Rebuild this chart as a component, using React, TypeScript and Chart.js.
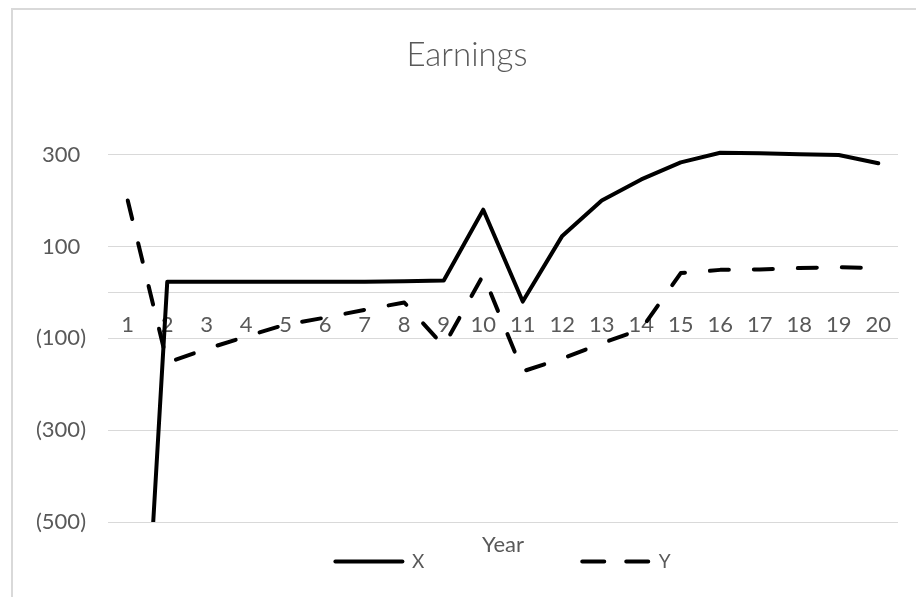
import React, { useEffect, useRef } from "react";
import { Chart, registerables } from "chart.js";

Chart.register(...registerables);

const YEARS = ["1", "2", "3", "4", "5", "6", "7", "8", "9", "10", "11", "12", "13", "14", "15", "16", "17", "18", "19", "20"];
const SERIES_X = [-1450, 23, 23, 23, 23, 23, 23, 24, 26, 180, -20, 123, 200, 246, 283, 304, 303, 301, 299, 281];
const SERIES_Y = [200, -153, -123, -96, -70, -55, -38, -22, -117, 38, -172, -144, -111, -80, 42, 49, 50, 53, 55, 53];
const Y_TICKS = [-500, -300, -100, 100, 300];
const TITLE = "Earnings";
const X_TITLE = "Year";

const TEXT = "#595959";
const GRID = "#d9d9d9";
const FONT = "Lato";

export default function App() {
  const ref = useRef<HTMLCanvasElement | null>(null);

  useEffect(() => {
    if (!ref.current) return;
    const chart = new Chart(ref.current, {
      type: "line",
      data: {
        labels: YEARS,
        datasets: [
          {
            label: "X",
            data: SERIES_X,
            borderColor: "#000000",
            backgroundColor: "#000000",
            borderWidth: 4,
            borderCapStyle: "round",
            borderJoinStyle: "round",
            pointRadius: 0,
            tension: 0,
            clip: { left: 5, top: 6, right: 5, bottom: 0 } as any,
          },
          {
            label: "Y",
            data: SERIES_Y,
            borderColor: "#000000",
            backgroundColor: "#000000",
            borderWidth: 4,
            borderDash: [19, 25],
            borderCapStyle: "round",
            borderJoinStyle: "round",
            pointRadius: 0,
            tension: 0,
            clip: { left: 5, top: 6, right: 5, bottom: 0 } as any,
          },
        ],
      },
      options: {
        responsive: false,
        animation: false,
        layout: { padding: { left: 23, right: 33, top: 0, bottom: 16 } },
        scales: {
          x: {
            type: "category",
            position: { y: 0 } as any,
            offset: true,
            grid: { display: false, drawTicks: false },
            border: { display: true, color: GRID, width: 1 },
            ticks: {
              color: TEXT,
              font: { family: FONT, size: 22 },
              padding: 19,
              autoSkip: false,
              maxRotation: 0,
            },
          },
          y: {
            min: -500,
            max: 300,
            afterBuildTicks: (s: any) => {
              s.ticks = Y_TICKS.map((v) => ({ value: v }));
            },
            afterFit: (s: any) => {
              s.width = 72;
            },
            grid: { color: GRID, lineWidth: 1, drawTicks: false },
            border: { display: false },
            ticks: {
              color: TEXT,
              font: { family: FONT, size: 22 },
              padding: 22,
              callback: (v: any) => (Number(v) < 0 ? `(${Math.abs(Number(v))})` : `${v} `),
            },
          },
        },
        plugins: {
          title: {
            display: true,
            text: TITLE,
            color: TEXT,
            font: { family: FONT, size: 33, weight: "300" as any },
            padding: { top: 26, bottom: 79 },
          },
          subtitle: {
            display: true,
            text: X_TITLE,
            position: "bottom",
            fullSize: false,
            weight: 500,
            color: TEXT,
            font: { family: FONT, size: 22, lineHeight: 1 },
            padding: { top: 12, bottom: -10 },
          } as any,
          legend: {
            display: true,
            position: "bottom",
            fullSize: false,
            labels: {
              color: TEXT,
              font: { family: FONT, size: 19 },
              usePointStyle: true,
              pointStyle: "line",
              pointStyleWidth: 67,
              padding: 6,
              generateLabels: (c: any) => {
                const items = Chart.defaults.plugins.legend.labels.generateLabels(c);
                return items.map((it: any, i: number) => {
                  const ds = c.data.datasets[it.datasetIndex];
                  return {
                    ...it,
                    text: i < items.length - 1 ? it.text + "\u2003".repeat(10) + "\u2002" : it.text,
                    lineDash: ds.borderDash ? [22, 22] : [],
                    lineCap: ds.borderCapStyle,
                    lineWidth: ds.borderWidth,
                    strokeStyle: ds.borderColor,
                  };
                });
              },
            },
          },
          tooltip: { enabled: false },
        },
      },
    });
    return () => chart.destroy();
  }, []);

  return (
    <div style={{ position: "fixed", left: 0, top: 0, width: 916, height: 597, overflow: "hidden", background: "#ffffff" }}>
      <div
        style={{
          position: "absolute",
          left: 11,
          top: 8,
          width: 960,
          height: 640,
          borderTop: `2px solid ${GRID}`,
          borderLeft: `2px solid ${GRID}`,
        }}
      >
        <canvas ref={ref} width={918} height={587} style={{ display: "block" }} />
      </div>
    </div>
  );
}
